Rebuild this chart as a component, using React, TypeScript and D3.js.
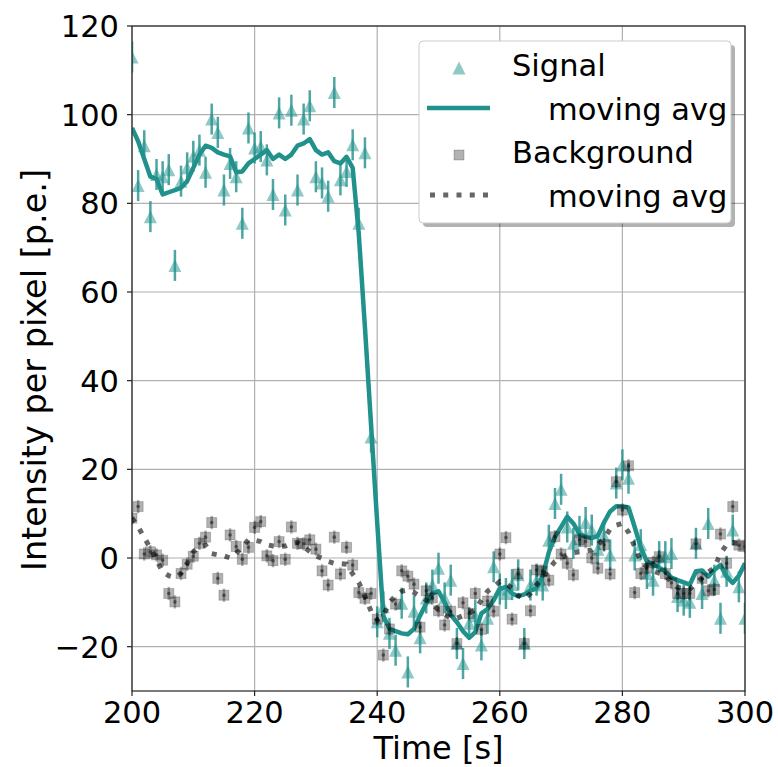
import React from 'react'
import * as d3 from 'd3'

// sample times, one per second
const times = d3.range(200, 301)

const signal = [
  113, 84, 93, 77, 86.5, 86, 87.6, 66, 85, 88,
  90.6, 92, 87, 99, 96, 83, 89, 86, 75.5, 97,
  92.5, 92.8, 89.8, 82, 100.4, 78.5, 101, 83, 99, 102,
  86, 84.6, 81.6, 105, 85.3, 87.2, 93.2, 75.5, 91.4, 27.3,
  -14.4, -11, -17, -20.8, -10.2, -25.7, -12, -18, -9, -6.1,
  -2.3, -9, -5, -19.3, -23.8, -14.7, -13, -19.6, -13.6, -2,
  -7, -8, -6, -3.8, -19.3, -6.1, -5, -6.1, 4, 12.3,
  15.5, 7, 3.3, 6, 8, 6.3, 2, 5, 0.7, 16.9,
  21, 18, 0.7, 3, -3.5, -5, 0.3, 0.3, 1, -8.7,
  -9.5, -10, 3.3, -8, 7.8, -5, -13.6, -3, 6.3, -6.5,
  -13.6,
]

const signalAvg = [
  97, 94, 90, 86, 85.5, 82, 82.5, 83, 83.5, 85,
  88, 91, 93, 92.5, 91.5, 91, 90.6, 87, 87.2, 89,
  90, 91, 92, 90, 91, 90, 91, 93, 93.5, 94.5,
  92, 91, 91.5, 89.5, 89, 90.5, 88, 73, 52, 30,
  8, -13, -16, -16.5, -17, -17.2, -16, -13, -10.2, -8,
  -7.5, -10, -12.8, -14.5, -16.5, -18, -16.7, -12.5, -11.5, -9.5,
  -7, -6.5, -8, -8.6, -8.2, -7.4, -6.8, -4, 1.3, 4.8,
  7, 9.3, 7.8, 5.4, 4.8, 4.5, 5, 8, 10.5, 11.7,
  11.6, 11.4, 7, 2.4, -0.8, -1.4, -2.2, -3, -4.4, -5,
  -5.5, -6, -3, -2.8, -4.2, -2.7, -1.6, -4.2, -5.6, -4,
  -1.2,
]

const background = [
  9, 11.6, 0.9, 1.4, 0.7, -0.5, -8, -9.9, -3.5, -1.4,
  0.4, 3.3, 4.7, 8, -4.6, -8.4, 5.2, 2.6, -0.3, 2.4,
  6.9, 8.2, 0.5, -0.6, 3.7, -0.3, 7, 3.3, 3.2, 4.1,
  2, -2.9, -6.1, 4.7, -3.6, 2.4, -1.6, -7.8, -9.1, -8,
  -13.8, -21.9, -16, -10.4, -2.9, -4.1, -5.9, -15.6, -7.4, -9,
  -11.9, -15.1, -12, -19.3, -10.1, -12.5, -8, -16.1, -9.7, -12,
  0.9, 4.6, -13.8, -3.6, -19.3, -11.9, -2.7, -3, -5, 4.8,
  0.9, -1.2, -3.8, 4.1, 3.7, 0, -2.3, 3, -3.6, 17.2,
  10.8, 20.8, -7.8, -3.5, -2.3, -1, 0.3, -3.5, -5.6, -8,
  -8, -8, 3.2, -4.6, -7.4, -7.1, 5.4, -1.2, 11.6, 2.9,
  2.6,
]

const backgroundAvg = [
  9, 7, 4.6, 2.2, -0.5, -3.1, -4, -4.4, -3.5, -1.2,
  1.4, 2.5, 2.9, 1, 0.7, 0.5, 0, 1, 2.5, 4.1,
  4, 3.7, 3, 2.7, 2.6, 2.7, 3.3, 3.5, 2.5, 1.5,
  0.5, -0.1, -0.8, -1.2, -1.3, -1.4, -3.6, -5.5, -8.7, -12,
  -14, -13, -10, -8.5, -7.5, -7.2, -7.8, -8.7, -9.5, -10.4,
  -11.7, -12.8, -13.6, -13.6, -13, -12.5, -11.6, -9.5, -7.5, -6.5,
  -5.3, -5.8, -6.8, -8.5, -9.3, -8, -6, -4.5, -2.5, -0.8,
  0, 0.8, 1.2, 1.4, 1.6, 1.8, 3, 4.4, 6.5, 7.4,
  7.8, 5.8, 2.6, -0.8, -2, -2.9, -3.4, -3.8, -5.5, -6.6,
  -7, -7, -5.6, -4.5, -3.2, -2.2, 1, 3, 3.5, 3.2,
  2.9,
]

const signalErr = 3.5
const backgroundErr = 1.5

const xTicks = [200, 220, 240, 260, 280, 300]
const yTicks = [-20, 0, 20, 40, 60, 80, 100, 120]

const legendLabels = ['Signal', 'moving avg', 'Background', 'moving avg']

const W = 778
const H = 767
const margin = { top: 26, right: 33, bottom: 76, left: 132 }
const teal = '#21918c'
const font = 'DejaVu Sans, sans-serif'

const fmt = (v: number) => String(v).replace('-', '\u2212')

export default function App() {
  const x = d3.scaleLinear().domain([200, 300]).range([margin.left, W - margin.right])
  const y = d3.scaleLinear().domain([-30, 120]).range([H - margin.bottom, margin.top])

  const line = d3.line<number>()
    .x((_, i) => x(times[i]))
    .y(d => y(d))

  const tri = (s: number) => `M0,${-s / 2}L${s / 2},${s / 2}L${-s / 2},${s / 2}Z`

  const x0 = margin.left
  const x1 = W - margin.right
  const y0 = margin.top
  const y1 = H - margin.bottom

  // legend layout
  const lg = { x: 419, y: 41, w: 312, h: 182 }
  const markY = [68, 108, 155, 195]
  const textY = [76, 120, 163, 207]
  const textX = [512, 548, 512, 548]

  return (
    <svg width={W} height={H} style={{ position: 'absolute', left: 0, top: 0, background: '#fff' }} fontFamily={font}>
      <defs>
        <clipPath id="plot">
          <rect x={x0} y={y0} width={x1 - x0} height={y1 - y0} />
        </clipPath>
      </defs>

      {/* grid */}
      {xTicks.map(t => (
        <line key={'gx' + t} x1={x(t)} x2={x(t)} y1={y0} y2={y1} stroke="#b0b0b0" strokeWidth={1.2} />
      ))}
      {yTicks.map(t => (
        <line key={'gy' + t} x1={x0} x2={x1} y1={y(t)} y2={y(t)} stroke="#b0b0b0" strokeWidth={1.2} />
      ))}

      <g clipPath="url(#plot)">
        {/* signal points */}
        {signal.map((v, i) => (
          <g key={'s' + i} transform={`translate(${x(times[i])},${y(v)})`}>
            <line y1={y(v + signalErr) - y(v)} y2={y(v - signalErr) - y(v)} stroke={teal} strokeWidth={2.5} opacity={0.8} />
            <path d={tri(13)} fill={teal} fillOpacity={0.5} />
          </g>
        ))}
        <path d={line(signalAvg) || ''} fill="none" stroke={teal} strokeWidth={4.5} strokeLinejoin="round" />

        {/* background points */}
        {background.map((v, i) => (
          <g key={'b' + i} transform={`translate(${x(times[i])},${y(v)})`}>
            <line y1={y(v + backgroundErr) - y(v)} y2={y(v - backgroundErr) - y(v)} stroke="#000" strokeWidth={2.5} opacity={0.3} />
            <rect x={-5} y={-5} width={10} height={10} fill="#000" fillOpacity={0.3} stroke="#000" strokeOpacity={0.2} strokeWidth={1} />
            <circle r={1.8} fill="#000" opacity={0.45} />
          </g>
        ))}
        <path d={line(backgroundAvg) || ''} fill="none" stroke="#000" strokeOpacity={0.6} strokeWidth={5} strokeDasharray="5,8.25" />
      </g>

      {/* axes frame */}
      <rect x={x0} y={y0} width={x1 - x0} height={y1 - y0} fill="none" stroke="#222" strokeWidth={1.2} />

      {/* x ticks */}
      {xTicks.map(t => (
        <g key={'xt' + t} transform={`translate(${x(t)},${y1})`}>
          <line y2={5} stroke="#222" strokeWidth={1.2} />
          <text y={31.5} textAnchor="middle" fontSize={30.5} fill="#000">{t}</text>
        </g>
      ))}
      {/* y ticks */}
      {yTicks.map(t => (
        <g key={'yt' + t} transform={`translate(${x0},${y(t)})`}>
          <line x2={-5} stroke="#222" strokeWidth={1.2} />
          <text x={-13} dy="0.36em" textAnchor="end" fontSize={30.5} fill="#000">{fmt(t)}</text>
        </g>
      ))}

      <text x={(x0 + x1) / 2} y={758.5} textAnchor="middle" fontSize={32} fill="#000">Time [s]</text>
      <text transform={`translate(46,370) rotate(-90)`} textAnchor="middle" fontSize={33.5} fill="#000">
        Intensity per pixel [p.e.]
      </text>

      {/* legend */}
      <rect x={lg.x + 4} y={lg.y + 4} width={lg.w} height={lg.h} rx={4} fill="#000" opacity={0.3} />
      <rect x={lg.x} y={lg.y} width={lg.w} height={lg.h} rx={4} fill="#fff" stroke="#ccc" strokeWidth={1} />
      <path d={tri(13)} transform={`translate(459,${markY[0]})`} fill={teal} fillOpacity={0.5} />
      <line x1={427} x2={490} y1={markY[1]} y2={markY[1]} stroke={teal} strokeWidth={4.5} />
      <rect x={454} y={markY[2] - 5} width={10} height={10} fill="#000" fillOpacity={0.3} stroke="#000" strokeOpacity={0.2} />
      <line x1={430} x2={490} y1={markY[3]} y2={markY[3]} stroke="#000" strokeOpacity={0.6} strokeWidth={5} strokeDasharray="5,8.25" />
      {legendLabels.map((l, i) => (
        <text key={'lg' + i} x={textX[i]} y={textY[i]} fontSize={30.5} fill="#000">
          {l}
        </text>
      ))}
    </svg>
  )
}
